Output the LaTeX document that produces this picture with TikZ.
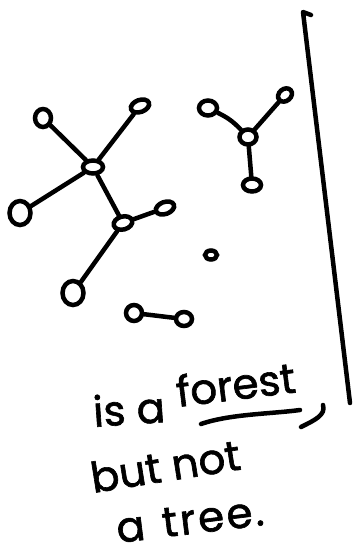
\documentclass[tikz,border=0pt]{standalone}
\usepackage{fontspec}
\newfontfamily\handfont{Poppins}[FakeBold=1.5]
\newfontfamily\handwide{Poppins}[FakeBold=1.5,LetterSpace=6]
\usetikzlibrary{shapes.geometric}
\tikzset{
  vtx/.style={draw, ellipse, line width=4.5pt, inner sep=0pt},
  edge/.style={line width=4.5pt, line cap=round, line join=round},
  hand/.style={font=\fontsize{42}{44}\handfont, inner sep=0pt, anchor=base west}
}
\begin{document}
\begin{tikzpicture}[x=1pt,y=-1pt]
\useasboundingbox (0,0) rectangle (355,554);
% big tree
\node[vtx, minimum width=16pt, minimum height=18pt] (a2) at (43,118) {};
\node[vtx, minimum width=19pt, minimum height=12pt, rotate=20] (t1) at (140,106) {};
\node[vtx, minimum width=20pt, minimum height=13pt] (c) at (93,167) {};
\node[vtx, minimum width=21pt, minimum height=24pt] (l) at (20,213) {};
\node[vtx, minimum width=19pt, minimum height=13pt, rotate=15] (m) at (123,223) {};
\node[vtx, minimum width=19pt, minimum height=12pt, rotate=20] (r) at (165,208) {};
\node[vtx, minimum width=21pt, minimum height=24pt] (b) at (73,293) {};
\draw[edge] (a2) -- (c);
\draw[edge] (t1) -- (c);
\draw[edge] (c) -- (l);
\draw[edge] (c) -- (m);
\draw[edge] (m) -- (r);
\draw[edge] (m) -- (b);
% Y tree
\node[vtx, minimum width=18pt, minimum height=15pt] (yl) at (208,108) {};
\node[vtx, minimum width=15pt, minimum height=12pt, rotate=40] (yr) at (285,95) {};
\node[vtx, minimum width=17pt, minimum height=15pt] (yc) at (248,137) {};
\node[vtx, minimum width=18pt, minimum height=13pt] (yb) at (252,185) {};
\draw[edge] (yl) to[bend left=10] (yc);
\draw[edge] (yr) -- (yc);
\draw[edge] (yc) -- (yb);
% isolated vertex
\node[vtx, minimum width=12pt, minimum height=9pt] (iso) at (211,255) {};
% pair
\node[vtx, minimum width=16pt, minimum height=16pt] (p1) at (134,313) {};
\node[vtx, minimum width=16pt, minimum height=14pt] (p2) at (184,319) {};
\draw[edge] (p1) -- (p2);
% vertical line
\coordinate (vt) at (303,12);
\coordinate (vh) at (311,15);
\coordinate (vb) at (350,403);
\draw[edge] (vh) -- (vt) -- (vb);
% text
\node[hand, rotate=4] (isa) at (94,427) {is a};
\node[hand, rotate=7] (forest) at (178,407) {forest};
\coordinate (ul1) at (201,424);
\coordinate (ul2) at (300,410);
\draw[edge] (ul1) .. controls (230,414) and (270,414) .. (ul2);
\coordinate (cm1) at (323,405);
\coordinate (cm2) at (301,427);
\draw[edge] (cm1) .. controls (326,415) and (315,420) .. (cm2);
\node[hand, rotate=9] (butnot) at (93,493) {but not};
\node[hand, rotate=7, font=\fontsize{42}{44}\handwide] (atree) at (118,543) {a\hspace{4pt} tree.};
\end{tikzpicture}
\end{document}
